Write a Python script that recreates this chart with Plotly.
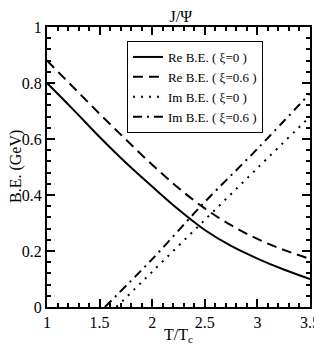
import plotly.graph_objects as go

# temperature grid (T/Tc)
t_re = [1.0, 1.25, 1.5, 1.75, 2.0, 2.25, 2.5, 2.75, 3.0, 3.25, 3.5]
re_xi0 = [0.80, 0.705, 0.607, 0.515, 0.43, 0.348, 0.275, 0.218, 0.173, 0.134, 0.100]
re_xi06 = [0.88, 0.785, 0.69, 0.598, 0.508, 0.425, 0.352, 0.292, 0.243, 0.204, 0.172]

# imaginary parts start where they cross zero
t_im0 = [1.66, 2.0, 2.5, 3.0, 3.5]
im_xi0 = [0.0, 0.126, 0.311, 0.496, 0.68]
t_im06 = [1.55, 2.0, 2.5, 3.0, 3.5]
im_xi06 = [0.0, 0.171, 0.375, 0.565, 0.763]

serif = "Liberation Serif, Times New Roman, serif"

fig = go.Figure()
fig.add_trace(go.Scatter(x=t_re, y=re_xi0, mode="lines", name="Re B.E. ( ξ=0 )",
                         line=dict(color="black", width=2, shape="spline")))
fig.add_trace(go.Scatter(x=t_re, y=re_xi06, mode="lines", name="Re B.E. ( ξ=0.6 )",
                         line=dict(color="black", width=2, dash="10px,6px", shape="spline")))
fig.add_trace(go.Scatter(x=t_im0, y=im_xi0, mode="lines", name="Im B.E. ( ξ=0 )",
                         line=dict(color="black", width=2, dash="2px,6px", shape="spline")))
fig.add_trace(go.Scatter(x=t_im06, y=im_xi06, mode="lines", name="Im B.E. ( ξ=0.6 )",
                         line=dict(color="black", width=2, dash="9px,5px,2px,5px", shape="spline")))

fig.update_xaxes(
    range=[1, 3.5], tickmode="linear", tick0=1, dtick=0.5,
    showgrid=False, zeroline=False, automargin=False,
    showline=True, linecolor="black", linewidth=2, mirror="allticks",
    ticks="inside", ticklen=8, tickwidth=2, tickcolor="black",
    tickfont=dict(family=serif, size=16, color="black"),
    minor=dict(tickmode="linear", tick0=1, dtick=0.1, ticks="inside", ticklen=4,
               tickwidth=2, tickcolor="black", showgrid=False),
)
fig.update_yaxes(
    range=[0, 1], tickmode="linear", tick0=0, dtick=0.2,
    showgrid=False, zeroline=False, automargin=False,
    showline=True, linecolor="black", linewidth=2, mirror="allticks",
    ticks="inside", ticklen=8, tickwidth=2, tickcolor="black",
    tickfont=dict(family=serif, size=16, color="black"),
    minor=dict(tickmode="linear", tick0=0, dtick=0.04, ticks="inside", ticklen=4,
               tickwidth=2, tickcolor="black", showgrid=False),
)

# axis titles
fig.add_annotation(text="B.E. (GeV)", textangle=-90, xref="paper", yref="paper",
                   x=0, y=0.5, xanchor="center", yanchor="middle", xshift=-31,
                   showarrow=False, font=dict(family=serif, size=16, color="black"))
fig.add_annotation(text="T/T<sub>c</sub>", xref="paper", yref="paper",
                   x=0.5, y=0, xanchor="center", yanchor="middle", yshift=-28,
                   showarrow=False, font=dict(family=serif, size=16, color="black"))

fig.update_layout(
    width=314, height=346,
    margin=dict(l=39, r=12, t=19, b=47, autoexpand=False),
    plot_bgcolor="white", paper_bgcolor="white",
    title=dict(text="J/Ψ", x=0.55, xanchor="center", y=0.975, yanchor="middle",
               font=dict(family=serif, size=16, color="black")),
    legend=dict(x=0.304, y=0.95, xanchor="left", yanchor="top",
                bordercolor="black", borderwidth=1, bgcolor="white",
                font=dict(family=serif, size=13, color="black"),
                itemwidth=30, tracegroupgap=0),
    showlegend=True,
)

fig.write_html("out.html")
